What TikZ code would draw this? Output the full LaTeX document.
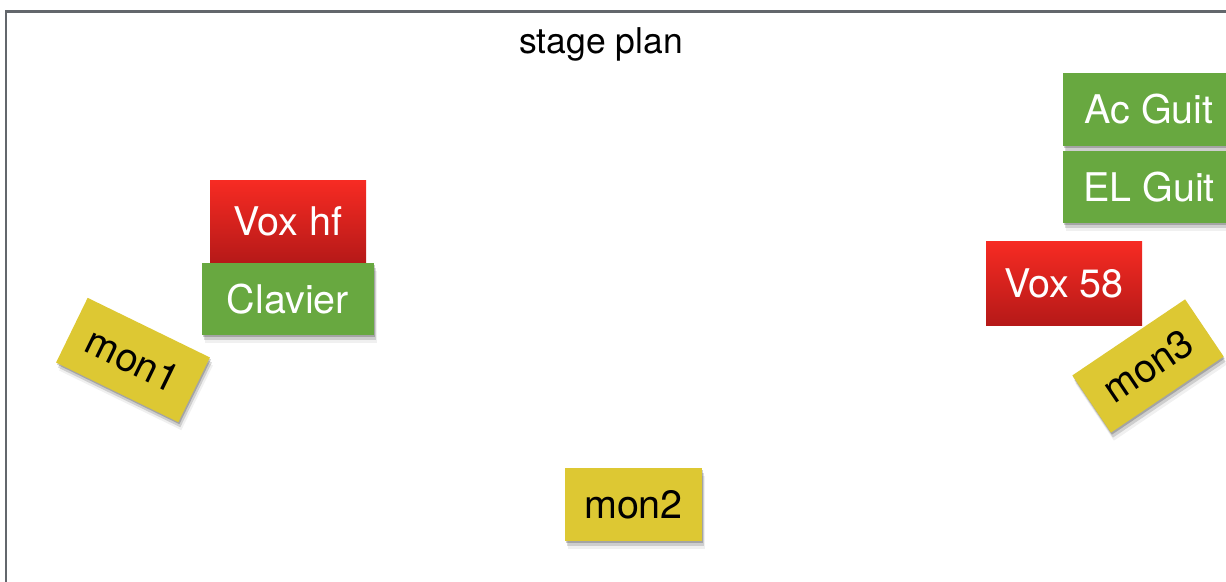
\documentclass[tikz,border=0pt]{standalone}
\usepackage{fontspec}
\setmainfont{TeX Gyre Heros}
\usetikzlibrary{shadows}
\definecolor{frame}{HTML}{63676C}
\definecolor{redtop}{HTML}{F72B23}
\definecolor{redbot}{HTML}{B51918}
\definecolor{felt}{HTML}{68A840}
\definecolor{mustard}{HTML}{DDC833}
\tikzset{
  lbl/.style={font=\fontsize{39.5}{42}\selectfont, inner sep=0pt, anchor=center},
  softshadow/.style={
    drop shadow={shadow xshift=1pt, shadow yshift=-2pt, opacity=0.2, fill=black},
    drop shadow={shadow xshift=2pt, shadow yshift=-5pt, opacity=0.14, fill=black},
    drop shadow={shadow xshift=3pt, shadow yshift=-8pt, opacity=0.06, fill=black}},
  redbox/.style={lbl, top color=redtop, bottom color=redbot, text=white},
  greenbox/.style={lbl, fill=felt, text=white, softshadow},
  yellowbox/.style={lbl, fill=mustard, text=black, softshadow},
}
\begin{document}
\begin{tikzpicture}[x=1pt,y=-1pt]
\useasboundingbox (0,0) rectangle (1226,581);
\fill[white] (0,0) rectangle (1226,581);
% stage frame
\draw[frame, line width=2.5pt] (6,585) -- (6,11.5) -- (1230,11.5);
% title
\node[font=\fontsize{35.5}{38}\selectfont, inner sep=0pt] (title) at (601,44) {stage plan};
% left side
\node[redbox, minimum width=156pt, minimum height=83pt] (voxhf) at (288,221.5) {Vox hf};
\node[greenbox, minimum width=172pt, minimum height=72pt] (clavier) at (288,299) {Clavier};
\node[yellowbox, minimum width=136pt, minimum height=72pt, rotate=-26] (mon1) at (133,360) {mon1};
% centre
\node[yellowbox, minimum width=137pt, minimum height=73pt] (mon2) at (633.5,504.5) {mon2};
% right side
\node[greenbox, minimum width=172pt, minimum height=73pt] (acguit) at (1149,109.5) {Ac Guit};
\node[greenbox, minimum width=172pt, minimum height=72pt] (elguit) at (1149,187) {EL Guit};
\node[redbox, minimum width=156pt, minimum height=84pt] (vox58) at (1064,283) {Vox 58};
\node[yellowbox, minimum width=136pt, minimum height=69pt, rotate=34] (mon3) at (1148,366) {mon3};
\end{tikzpicture}
\end{document}
